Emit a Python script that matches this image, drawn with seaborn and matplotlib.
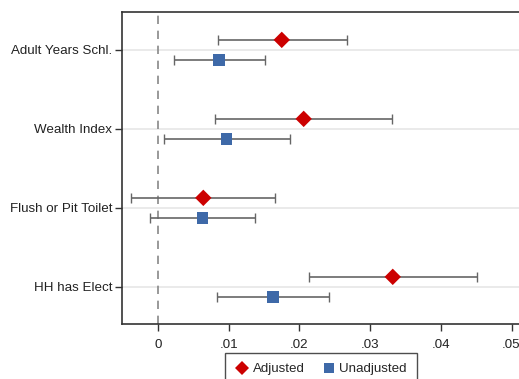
import matplotlib
matplotlib.use("Agg")
import matplotlib.pyplot as plt
import seaborn as sns
import pandas as pd
import numpy as np
from matplotlib.lines import Line2D

categories = ["Adult Years Schl.", "Wealth Index", "Flush or Pit Toilet", "HH has Elect"]
adj_est = [0.0175, 0.0206, 0.0064, 0.0332]
adj_lo = [0.0085, 0.0081, -0.0038, 0.0214]
adj_hi = [0.0267, 0.0331, 0.0165, 0.0451]
unadj_est = [0.0086, 0.0097, 0.0063, 0.0163]
unadj_lo = [0.0023, 0.0009, -0.0011, 0.0083]
unadj_hi = [0.0151, 0.0186, 0.0137, 0.0242]
xticks = [0, 0.01, 0.02, 0.03, 0.04, 0.05]
xticklabels = ["0", ".01", ".02", ".03", ".04", ".05"]

sns.set_theme(style="white")
plt.rcParams['font.family'] = ['Liberation Sans', 'DejaVu Sans']

RED = "#cc0000"
BLUE = "#3e69a8"
off = 0.127

pos = np.arange(1, len(categories) + 1)
df = pd.DataFrame({
    "est": adj_est + unadj_est,
    "lo": adj_lo + unadj_lo,
    "hi": adj_hi + unadj_hi,
    "y": list(pos - off) + list(pos + off),
    "model": ["Adjusted"] * 4 + ["Unadjusted"] * 4,
})

fig = plt.figure(figsize=(5.19, 3.79), dpi=100)
ax = fig.add_axes([122 / 519, 1 - 324 / 379, (520 - 122) / 519, (324 - 12) / 379])

for p in pos:
    ax.axhline(p, color="#e6e6e6", lw=1.2, zorder=0)
ax.axvline(0, color="#888888", lw=1.2, ls=(0, (5, 4)), zorder=1)

for _, r in df.iterrows():
    ax.errorbar(r["est"], r["y"], xerr=[[r["est"] - r["lo"]], [r["hi"] - r["est"]]],
                fmt="none", ecolor="#666666", elinewidth=1.2, capsize=3.5, capthick=1.0, zorder=2)

sns.scatterplot(data=df, x="est", y="y", hue="model", style="model",
                palette={"Adjusted": RED, "Unadjusted": BLUE},
                markers={"Adjusted": "D", "Unadjusted": "s"},
                s=70, edgecolor="none", linewidth=0, ax=ax, zorder=3, legend=False)

ax.set_xlim(-0.0051, (520 - 158) / 7070)
ax.set_ylim(4.47, 0.52)
ax.set_xticks(xticks)
ax.set_xticklabels(xticklabels)
ax.set_yticks(pos)
ax.set_yticklabels(categories)
ax.set_xlabel("")
ax.set_ylabel("")
ax.tick_params(axis="both", which="both", direction="out", length=5, width=1,
               color="#333333", labelsize=9.6, labelcolor="#222222", pad=2,
               left=True, bottom=True)
ax.tick_params(axis="x", pad=6)
for s in ax.spines.values():
    s.set_color("#333333")
    s.set_linewidth(1.2)

handles = [
    Line2D([], [], marker="D", color=RED, ls="none", markersize=7, markeredgewidth=0),
    Line2D([], [], marker="s", color=BLUE, ls="none", markersize=6.5, markeredgewidth=0),
]
leg = fig.legend(handles, ["Adjusted", "Unadjusted"], loc="upper center",
                 bbox_to_anchor=(321 / 519, 1 - 353 / 379), ncol=2, frameon=True,
                 fontsize=9.6, handletextpad=0.3, columnspacing=1.3,
                 borderpad=0.75, handlelength=1.0, fancybox=False, borderaxespad=0)
leg.get_frame().set_edgecolor("#222222")
leg.get_frame().set_linewidth(1.0)

fig.savefig("out.png", dpi=100)
